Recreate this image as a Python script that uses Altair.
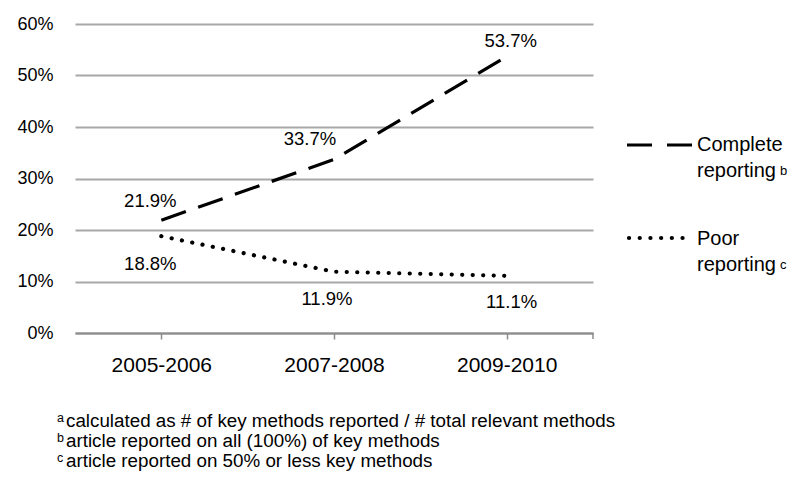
import altair as alt
import pandas as pd

# ---- data ----
periods = ["2005-2006", "2007-2008", "2009-2010"]
complete_vals = [0.219, 0.337, 0.537]
poor_vals = [0.188, 0.119, 0.111]
series_names = ["Complete reporting", "Poor reporting"]
y_ticks = [0.0, 0.1, 0.2, 0.3, 0.4, 0.5, 0.6]
footnotes = [
    ("a", "calculated as # of key methods reported / # total relevant methods"),
    ("b", "article reported on all (100%) of key methods"),
    ("c", "article reported on 50% or less key methods"),
]
legend_lines = [("Complete", "reporting", "b"), ("Poor", "reporting", "c")]

df = pd.DataFrame({
    "period": periods * 2,
    "value": complete_vals + poor_vals,
    "series": [series_names[0]] * 3 + [series_names[1]] * 3,
    "label": [f"{v*100:.1f}%" for v in complete_vals + poor_vals],
})
one = pd.DataFrame({"k": [0]})  # single row for annotation marks

# ---- style ----
W, H = 518, 309
FONT = "Liberation Sans"
TXT = "#000000"
GRID = "#a8a8a8"

# label offsets (dx, dy) per series per period
label_offsets = {
    series_names[0]: [(-11, -19), (-24, -20), (4, -15)],
    series_names[1]: [(-11, 28), (-7, 27), (5, 26)],
}

x_enc = alt.X(
    "period:N", sort=periods,
    scale=alt.Scale(type="point", padding=0.5),
    axis=alt.Axis(title=None, labelAngle=0, domainColor="#8c8c8c", domainWidth=2,
                  tickColor="#8c8c8c", tickWidth=1.5, tickSize=6,
                  labelFont=FONT, labelFontSize=21, labelFontWeight="normal",
                  labelColor=TXT, labelPadding=15),
)
y_enc = alt.Y(
    "value:Q", scale=alt.Scale(domain=[0, 0.6], nice=False),
    axis=alt.Axis(title=None, format=".0%", values=y_ticks, domain=False, ticks=False,
                  gridColor=GRID, gridWidth=2, labelFont=FONT, labelFontSize=18,
                  labelFontWeight="normal", labelColor=TXT, labelPadding=22),
)

base = alt.Chart(df)

grid_layer = base.mark_point(opacity=0).encode(x=x_enc, y=y_enc)

line_complete = base.transform_filter(alt.datum.series == series_names[0]).mark_line(
    color="black", strokeWidth=3.2, strokeDash=[26, 13]
).encode(x=alt.X("period:N", sort=periods), y="value:Q")

line_poor = base.transform_filter(alt.datum.series == series_names[1]).mark_line(
    color="black", strokeWidth=4.2, strokeDash=[0.1, 10.4], strokeCap="round"
).encode(x=alt.X("period:N", sort=periods), y="value:Q")

label_layers = []
for s in series_names:
    for p, (dx, dy) in zip(periods, label_offsets[s]):
        label_layers.append(
            base.transform_filter((alt.datum.series == s) & (alt.datum.period == p))
            .mark_text(font=FONT, fontSize=18.5, fontWeight="normal", color=TXT,
                       align="center", baseline="middle", dx=dx, dy=dy)
            .encode(x=alt.X("period:N", sort=periods), y="value:Q", text="label:N")
        )

end_tick = alt.Chart(one).mark_rule(color="#8c8c8c", strokeWidth=1.5).encode(
    x=alt.value(W), y=alt.value(H), y2=alt.value(H + 6)
)

# ---- manual legend ----
LX = 552
leg = []
leg.append(alt.Chart(one).mark_rule(color="black", strokeWidth=3.2, strokeDash=[25, 15]).encode(
    x=alt.value(LX), x2=alt.value(LX + 66), y=alt.value(121)))
leg.append(alt.Chart(one).mark_rule(color="black", strokeWidth=4.2, strokeDash=[0.1, 10.6],
                                    strokeCap="round").encode(
    x=alt.value(LX + 2), x2=alt.value(LX + 62), y=alt.value(214)))
for (w1, w2, sup), yb in zip(legend_lines, [127, 221]):
    leg.append(alt.Chart(one).mark_text(font=FONT, fontSize=20, fontWeight="normal", color=TXT,
                                        align="left", baseline="alphabetic").encode(
        x=alt.value(LX + 70), y=alt.value(yb), text=alt.value(w1)))
    leg.append(alt.Chart(one).mark_text(font=FONT, fontSize=20, fontWeight="normal", color=TXT,
                                        align="left", baseline="alphabetic").encode(
        x=alt.value(LX + 70), y=alt.value(yb + 26), text=alt.value(w2)))
    leg.append(alt.Chart(one).mark_text(font=FONT, fontSize=13, fontWeight="normal", color=TXT,
                                        align="left", baseline="alphabetic").encode(
        x=alt.value(LX + 70 + 83), y=alt.value(yb + 24), text=alt.value(sup)))

# ---- footnotes ----
foot = []
for i, (sup, txt) in enumerate(footnotes):
    yb = 403 + 20 * i
    foot.append(alt.Chart(one).mark_text(font=FONT, fontSize=12.5, fontWeight="normal", color=TXT,
                                         align="left", baseline="alphabetic").encode(
        x=alt.value(-18), y=alt.value(yb - 5), text=alt.value(sup)))
    foot.append(alt.Chart(one).mark_text(font=FONT, fontSize=18.8, fontWeight="normal", color=TXT,
                                         align="left", baseline="alphabetic").encode(
        x=alt.value(-9), y=alt.value(yb), text=alt.value(txt)))

chart = alt.layer(
    grid_layer, line_complete, line_poor, *label_layers, end_tick, *leg, *foot
).properties(
    width=W, height=H,
    autosize=alt.AutoSizeParams(type="none"),
    padding={"left": 67, "top": 16, "right": 199, "bottom": 139},
    background="white",
).configure_view(stroke=None)

chart.save("out.html", embed_options={"renderer": "svg", "actions": False})
